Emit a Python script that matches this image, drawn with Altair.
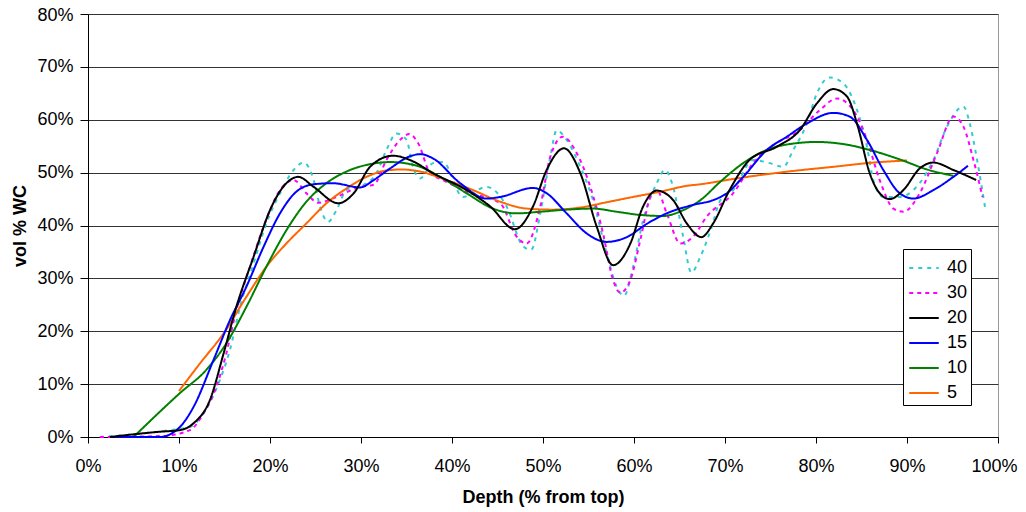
import altair as alt
import pandas as pd

series_order = ["40", "30", "20", "15", "10", "5"]
draw_order = ["40", "30", "5", "10", "15", "20"]
colors = ["#33CCCC", "#FF00FF", "#000000", "#0000FF", "#008000", "#FF6600"]
dashes = [[4, 5], [4, 4], [1, 0], [1, 0], [1, 0], [1, 0]]
widths = [2, 2, 3.2, 1.6, 1.6, 1.6]
x_ticks = [0, 10, 20, 30, 40, 50, 60, 70, 80, 90, 100]
y_ticks = [0, 10, 20, 30, 40, 50, 60, 70, 80]

x20 = [2.4, 7.9, 10.1, 11.6, 13.4, 14.9, 16.3, 18.2, 20.0, 21.8, 23.1, 24.8, 27.5, 29.2, 31.0, 33.5, 35.5,
       37.9, 41.6, 44.2, 46.9, 48.9, 50.4, 52.3, 54.1, 55.9, 57.7, 59.6, 61.0, 62.5, 64.3, 65.8, 67.4, 68.7,
       70.5, 72.7, 75.7, 78.2, 80.1, 81.9, 83.4, 84.6, 85.9, 87.0, 88.1, 89.6, 91.4, 92.9, 95.1, 97.6]
y20 = [0.0, 1.0, 1.3, 2.6, 7.0, 15.8, 24.6, 34.1, 42.9, 48.0, 49.2, 47.3, 44.2, 46.1, 51.1, 53.2, 52.3,
       49.9, 46.7, 43.6, 39.3, 43.6, 50.5, 54.6, 49.9, 39.8, 32.5, 36.6, 43.6, 46.6, 44.8, 40.4, 37.8, 40.4,
       46.7, 52.4, 54.9, 58.0, 63.1, 65.8, 64.4, 58.7, 49.9, 46.1, 45.0, 46.7, 50.8, 51.9, 50.5, 48.6]

x15 = [2.8, 7.9, 10.1, 11.6, 13.8, 15.6, 17.4, 19.3, 21.1, 22.9, 24.8, 26.9, 29.9, 31.4, 33.2, 35.4, 36.5,
       37.9, 40.9, 43.8, 45.3, 48.9, 50.4, 52.6, 54.8, 57.0, 59.2, 61.4, 63.6, 66.5, 68.7, 70.2, 72.0, 74.6,
       76.8, 79.0, 81.9, 83.7, 85.6, 87.4, 89.2, 90.7, 92.9, 95.1, 96.7]
y15 = [0.0, 0.0, 1.9, 5.7, 14.6, 22.1, 28.4, 36.0, 42.3, 46.4, 47.8, 48.0, 47.2, 48.6, 50.8, 53.1, 53.5,
       52.7, 48.0, 45.1, 45.4, 47.1, 46.1, 42.3, 38.5, 36.9, 37.8, 40.3, 42.3, 43.9, 44.8, 46.1, 49.2, 54.3,
       56.8, 59.3, 61.3, 60.6, 56.2, 50.5, 46.1, 45.1, 46.7, 49.2, 51.3]

x10 = [5.0, 10.1, 13.0, 15.2, 17.4, 19.6, 21.8, 24.0, 26.2, 28.4, 31.0, 33.2, 35.4, 36.5, 38.7, 41.6, 44.5,
       47.1, 49.7, 52.6, 55.5, 58.1, 60.7, 63.2, 65.4, 67.3, 69.5, 72.0, 74.6, 77.5, 80.1, 83.0, 86.3, 89.2,
       92.2, 95.1]
y10 = [0.0, 8.3, 12.7, 17.7, 24.6, 32.2, 39.1, 44.5, 48.0, 50.2, 51.6, 52.0, 51.6, 51.1, 49.2, 46.1, 43.2,
       42.3, 42.6, 43.0, 43.2, 42.6, 42.0, 41.8, 42.9, 44.8, 48.3, 51.8, 54.3, 55.5, 55.8, 55.4, 54.1, 52.5,
       50.6, 49.4]

x5 = [10.0, 12.3, 14.9, 17.4, 19.6, 21.8, 24.0, 26.2, 28.4, 30.6, 32.8, 34.5, 36.5, 39.4, 42.3, 45.3, 48.2,
      51.1, 54.1, 57.0, 59.9, 62.9, 65.8, 67.3, 70.9, 76.4, 81.9, 86.3, 90.0]
y5 = [8.7, 13.9, 19.6, 26.5, 32.2, 36.6, 40.4, 44.2, 47.0, 49.2, 50.4, 50.6, 50.2, 48.6, 46.7, 44.5, 43.2,
      43.0, 43.4, 44.4, 45.4, 46.4, 47.5, 47.8, 48.8, 50.1, 51.1, 51.9, 52.3]

x30 = [1.3, 8.3, 11.2, 12.7, 14.1, 15.2, 16.3, 17.8, 19.3, 21.1, 22.6, 24.0, 25.3, 27.3, 29.9, 31.4, 32.8,
       34.3, 35.3, 36.3, 37.6, 39.0, 41.6, 45.3, 47.1, 48.2, 49.7, 50.8, 52.2, 53.7, 55.2, 56.6, 57.7, 58.5,
       59.6, 60.7, 61.8, 62.5, 63.6, 65.1, 66.5, 68.0, 70.9, 73.1, 75.3, 78.2, 80.4, 82.3, 84.1, 85.6, 87.0,
       88.5, 89.6, 91.4, 93.3, 95.1, 96.2, 97.3, 98.3]
y30 = [0.0, 0.2, 1.3, 4.5, 9.5, 15.8, 24.0, 32.2, 39.8, 46.7, 48.6, 46.1, 44.3, 45.4, 47.3, 47.7, 52.4,
       56.2, 57.3, 55.5, 49.9, 48.6, 46.4, 44.2, 37.9, 36.6, 43.6, 53.0, 56.8, 53.7, 47.3, 38.5, 29.7, 27.3,
       29.7, 37.3, 45.4, 46.7, 42.3, 36.6, 37.9, 41.7, 46.1, 51.8, 55.2, 58.0, 61.8, 64.0, 61.8, 56.2, 48.6,
       43.2, 42.6, 46.1, 53.7, 60.6, 58.7, 52.4, 45.4]

x40 = [1.3, 9.0, 11.2, 12.7, 14.5, 15.6, 16.7, 18.2, 19.6, 21.1, 22.6, 23.7, 24.8, 25.5, 26.4, 27.3, 28.4,
       30.3, 31.7, 32.8, 33.9, 35.0, 35.7, 36.5, 37.9, 39.0, 41.2, 43.8, 46.0, 47.8, 48.7, 49.7, 50.8, 51.5,
       52.6, 54.1, 55.5, 57.0, 58.1, 58.9, 59.9, 61.0, 62.5, 63.4, 64.3, 65.4, 66.3, 67.3, 68.5, 69.5, 70.9,
       73.1, 74.9, 76.4, 77.5, 79.0, 80.1, 81.5, 83.0, 84.1, 85.6, 86.3, 87.4, 89.2, 90.7, 92.9, 94.4, 96.2,
       96.9, 97.7, 98.6]
y40 = [0.0, 1.3, 1.9, 4.5, 10.8, 16.5, 24.6, 32.8, 40.4, 46.1, 50.5, 51.9, 48.6, 43.6, 40.7, 42.9, 46.7,
       47.7, 49.9, 54.3, 57.4, 56.2, 51.1, 48.9, 51.8, 52.0, 45.4, 47.3, 43.6, 36.1, 35.4, 42.3, 53.0, 58.0,
       56.2, 51.1, 44.8, 34.7, 28.4, 26.7, 32.2, 41.0, 48.0, 50.5, 47.3, 37.9, 31.1, 34.1, 39.5, 44.8, 46.7,
       52.4, 51.8, 51.1, 54.3, 59.3, 65.0, 68.0, 66.9, 63.7, 54.9, 48.6, 45.4, 45.4, 46.7, 52.4, 58.7, 62.5,
       59.3, 52.4, 43.2]

series_data = {"40": (x40, y40), "30": (x30, y30), "20": (x20, y20),
               "15": (x15, y15), "10": (x10, y10), "5": (x5, y5)}

rows = []
for s in draw_order:
    xs, ys = series_data[s]
    for i, (xv, yv) in enumerate(zip(xs, ys)):
        rows.append({"series": s, "depth": xv, "wc": yv, "idx": i})
df = pd.DataFrame(rows)

FONT = "Liberation Sans"

legend_kw = dict(
    title=None, orient="none", legendX=815, legendY=235,
    strokeColor="black", fillColor="white", padding=3,
    symbolType="stroke", symbolSize=870, symbolOffset=2, labelFontSize=18, labelFont=FONT,
    labelColor="black", rowPadding=0, labelOffset=7,
)

x_label_offset = {"condition": {"test": "datum.value == 100", "value": -4}, "value": 0}
y_label_offset = {"condition": {"test": "datum.value == 80", "value": 1.5}, "value": 0}

chart = alt.Chart(df).mark_line(interpolate="monotone").encode(
    x=alt.X("depth:Q", scale=alt.Scale(domain=[0, 100], nice=False),
            axis=alt.Axis(values=x_ticks, labelExpr="datum.value + '%'", title="Depth (% from top)",
                          grid=False, tickSize=6, labelPadding=14, titleY=65, labelFlush=False,
                          labelOffset=x_label_offset, titleBaseline="alphabetic")),
    y=alt.Y("wc:Q", scale=alt.Scale(domain=[0, 80], nice=False),
            axis=alt.Axis(values=y_ticks, labelExpr="datum.value + '%'", title="vol % WC",
                          grid=True, tickSize=8, labelPadding=7, titleX=-63, labelFlush=False,
                          labelOffset=y_label_offset, titleBaseline="alphabetic")),
    color=alt.Color("series:N", scale=alt.Scale(domain=series_order, range=colors),
                    legend=alt.Legend(**legend_kw)),
    strokeDash=alt.StrokeDash("series:N", scale=alt.Scale(domain=series_order, range=dashes),
                              legend=alt.Legend(**legend_kw)),
    strokeWidth=alt.StrokeWidth("series:N", scale=alt.Scale(domain=series_order, range=widths),
                                legend=alt.Legend(**legend_kw)),
    order=alt.Order("idx:Q"),
).properties(
    width=910, height=423,
    autosize=alt.AutoSizeParams(type="none"),
    padding={"left": 80, "top": 6, "right": 20, "bottom": 75},
).configure_view(
    stroke="#999999", strokeWidth=1
).configure_axis(
    labelFont=FONT, titleFont=FONT, labelFontSize=18, titleFontSize=18,
    titleFontWeight="bold", labelColor="black", titleColor="black",
    domainColor="black", tickColor="black", gridColor="#333333", gridWidth=1,
    domainWidth=1, tickWidth=1,
)

chart.save("out.html", embed_options={"renderer": "svg", "actions": False})
